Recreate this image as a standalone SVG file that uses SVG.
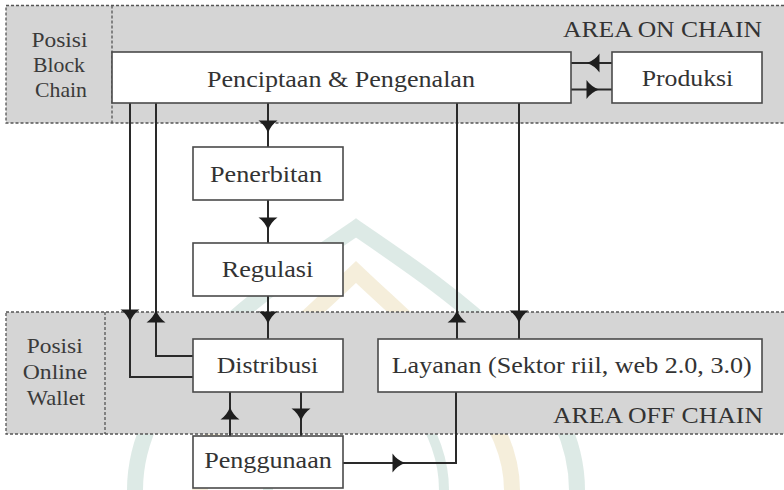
<svg xmlns="http://www.w3.org/2000/svg" xmlns:xlink="http://www.w3.org/1999/xlink" width="784" height="490" viewBox="0 0 784 490">
  <style>
    .zone { fill: #d5d5d5; stroke: #555; stroke-width: 1.3; stroke-dasharray: 3 2; }
    .sep { fill: none; stroke: #555; stroke-width: 1.3; stroke-dasharray: 3 2; }
    .box { fill: #fff; stroke: #4a4a4a; stroke-width: 1.6; }
    text { font-family: "Liberation Serif", "Times New Roman", serif; }
    .lbl { font-size: 24px; fill: #333; text-anchor: middle; }
    .side { font-size: 22px; fill: #3a3a3a; text-anchor: middle; }
    .area { font-size: 24px; fill: #333; text-anchor: end; }
    .wire { fill: none; stroke: #2a2a2a; stroke-width: 2; }
    .head { fill: #1e1e1e; }
    .wm-teal { fill: none; stroke: #6fa996; stroke-opacity: 0.24; }
    .wm-sand { fill: none; stroke: #d9c07a; stroke-opacity: 0.27; }
  </style>
  <defs>
    <!-- arrowhead pointing down, tip at origin -->
    <path id="ah" d="M0,0 Q-3,-8 -9.5,-12.5 L9.5,-12.5 Q3,-8 0,0 Z"/>
  </defs>

  <rect width="784" height="490" fill="#fff"/>

  <!-- background emblem -->
  <g id="watermark">
    <path class="wm-teal" stroke-width="16" d="M135,490 C135,380 250,300 356,228 C462,300 577,380 577,490"/>
    <path class="wm-sand" stroke-width="16" d="M200,490 C200,405 290,335 356,272 C422,335 512,405 512,490"/>
    <path class="wm-teal" stroke-width="10" d="M268,490 C268,425 318,375 356,342 C394,375 444,425 444,490"/>
  </g>

  <!-- zones -->
  <g id="zone-on-chain">
    <rect class="zone" x="6" y="5.5" width="800" height="117.5"/>
    <line class="sep" x1="112" y1="5.5" x2="112" y2="123"/>
    <text class="side" x="59.5" y="46.5" textLength="56" lengthAdjust="spacingAndGlyphs">Posisi</text>
    <text class="side" x="59" y="71.5" textLength="52" lengthAdjust="spacingAndGlyphs">Block</text>
    <text class="side" x="61" y="96.5" textLength="52" lengthAdjust="spacingAndGlyphs">Chain</text>
    <text class="area" x="762" y="37" textLength="199" lengthAdjust="spacingAndGlyphs">AREA ON CHAIN</text>
  </g>
  <g id="zone-off-chain">
    <rect class="zone" x="6" y="312" width="800" height="122"/>
    <line class="sep" x1="105" y1="312" x2="105" y2="434"/>
    <text class="side" x="54.7" y="353.3" textLength="56" lengthAdjust="spacingAndGlyphs">Posisi</text>
    <text class="side" x="55" y="379.3" textLength="64.5" lengthAdjust="spacingAndGlyphs">Online</text>
    <text class="side" x="56" y="405" textLength="58.3" lengthAdjust="spacingAndGlyphs">Wallet</text>
    <text class="area" x="763" y="423.3" textLength="210" lengthAdjust="spacingAndGlyphs">AREA OFF CHAIN</text>
  </g>

  <!-- connectors -->
  <g id="connectors">
    <path class="wire" d="M268,103 V147"/>
    <path class="wire" d="M268,200 V243"/>
    <path class="wire" d="M268,296 V339"/>
    <path class="wire" d="M130,103 V377 H193"/>
    <path class="wire" d="M193,356 H156 V103"/>
    <path class="wire" d="M457,339 V103"/>
    <path class="wire" d="M519,103 V339"/>
    <path class="wire" d="M612,63 H571"/>
    <path class="wire" d="M571,89.5 H612"/>
    <path class="wire" d="M230,436 V392"/>
    <path class="wire" d="M301,392 V436"/>
    <path class="wire" d="M343,463 H456 V392"/>

    <use class="head" xlink:href="#ah" transform="translate(268,133)"/>
    <use class="head" xlink:href="#ah" transform="translate(268,230)"/>
    <use class="head" xlink:href="#ah" transform="translate(268,324)"/>
    <use class="head" xlink:href="#ah" transform="translate(130,322)"/>
    <use class="head" xlink:href="#ah" transform="translate(156,310) rotate(180)"/>
    <use class="head" xlink:href="#ah" transform="translate(457,310) rotate(180)"/>
    <use class="head" xlink:href="#ah" transform="translate(519,323)"/>
    <use class="head" xlink:href="#ah" transform="translate(587,63) rotate(90)"/>
    <use class="head" xlink:href="#ah" transform="translate(599,89.5) rotate(-90)"/>
    <use class="head" xlink:href="#ah" transform="translate(230,407) rotate(180)"/>
    <use class="head" xlink:href="#ah" transform="translate(301,421)"/>
    <use class="head" xlink:href="#ah" transform="translate(405,463) rotate(-90)"/>
  </g>

  <!-- nodes -->
  <g id="penciptaan">
    <rect class="box" x="112" y="52" width="459" height="51"/>
    <text class="lbl" x="341" y="87" textLength="268" lengthAdjust="spacingAndGlyphs">Penciptaan &amp; Pengenalan</text>
  </g>
  <g id="produksi">
    <rect class="box" x="612" y="52" width="150" height="51"/>
    <text class="lbl" x="687.5" y="86" textLength="91.6" lengthAdjust="spacingAndGlyphs">Produksi</text>
  </g>
  <g id="penerbitan">
    <rect class="box" x="193" y="147" width="150" height="53"/>
    <text class="lbl" x="266" y="181.7" textLength="112" lengthAdjust="spacingAndGlyphs">Penerbitan</text>
  </g>
  <g id="regulasi">
    <rect class="box" x="193" y="243" width="150" height="53"/>
    <text class="lbl" x="267.5" y="276.7" textLength="91.6" lengthAdjust="spacingAndGlyphs">Regulasi</text>
  </g>
  <g id="distribusi">
    <rect class="box" x="193" y="339" width="150" height="53"/>
    <text class="lbl" x="267.5" y="372.7" textLength="101.6" lengthAdjust="spacingAndGlyphs">Distribusi</text>
  </g>
  <g id="layanan">
    <rect class="box" x="378" y="339" width="384" height="53"/>
    <text class="lbl" x="571.7" y="372.7" textLength="360" lengthAdjust="spacingAndGlyphs">Layanan (Sektor riil, web 2.0, 3.0)</text>
  </g>
  <g id="penggunaan">
    <rect class="box" x="193" y="436" width="150" height="52"/>
    <text class="lbl" x="268" y="468.3" textLength="127.7" lengthAdjust="spacingAndGlyphs">Penggunaan</text>
  </g>
</svg>
